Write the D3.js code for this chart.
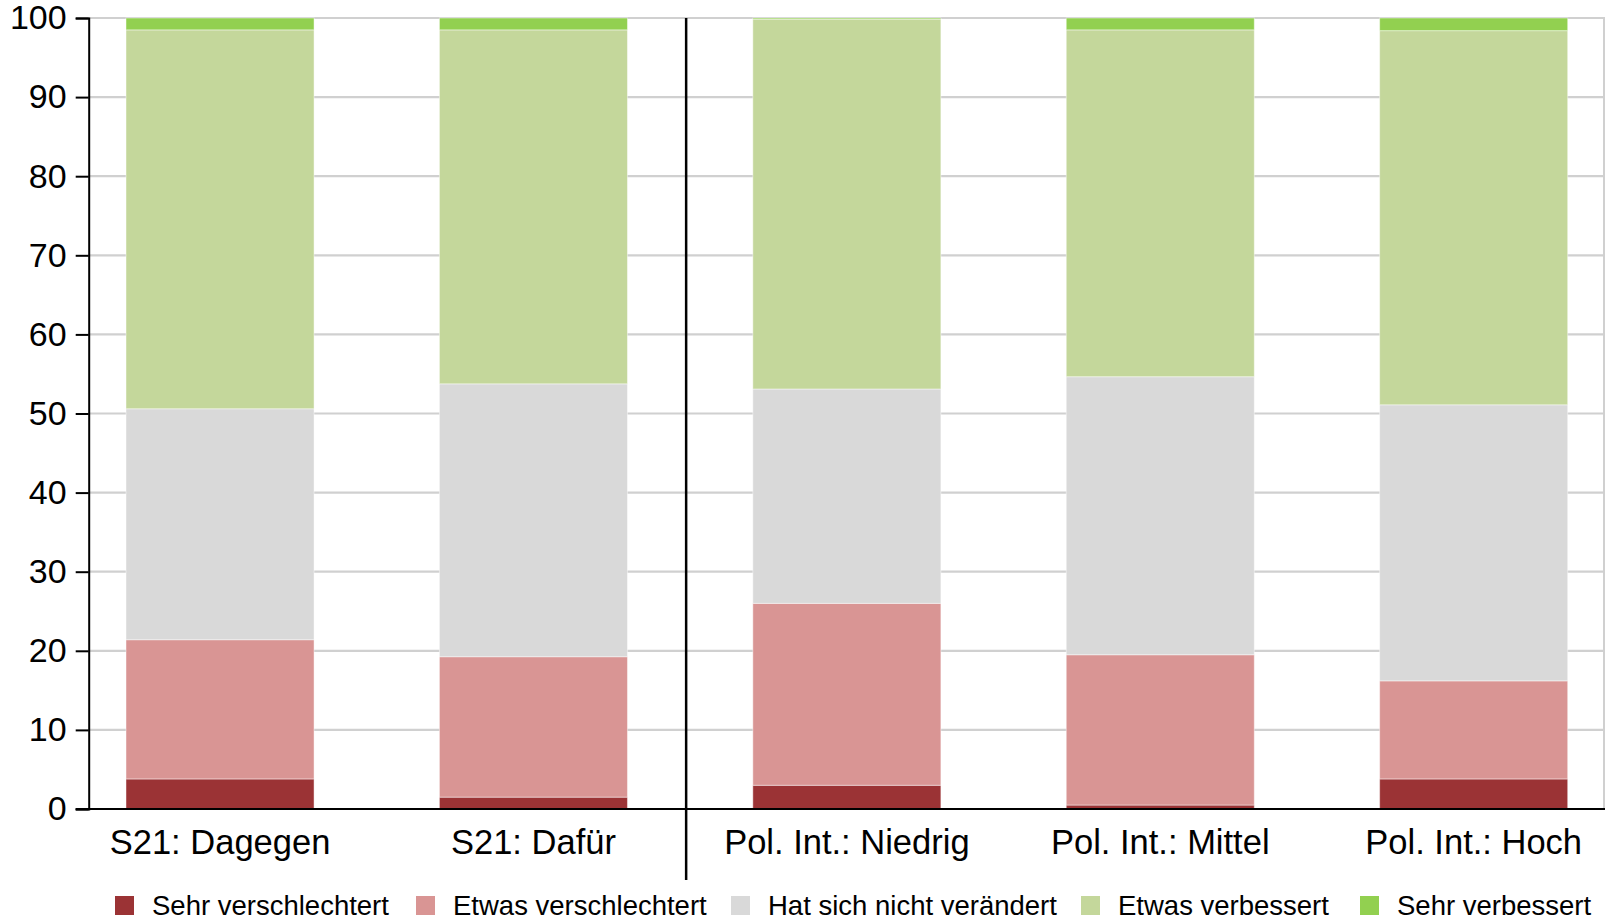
<!DOCTYPE html>
<html>
<head>
<meta charset="utf-8">
<script src="https://cdn.jsdelivr.net/npm/d3@7"></script>
<style>
  html, body { margin: 0; padding: 0; background: #fff; }
  svg { display: block; font-family: "Liberation Sans", Arial, sans-serif; }
</style>
</head>
<body>
<svg id="chart" width="1608" height="922"></svg>
<script>
// ---- data ----
const categories = ["S21: Dagegen", "S21: Dafür", "Pol. Int.: Niedrig", "Pol. Int.: Mittel", "Pol. Int.: Hoch"];
const seriesNames = ["Sehr verschlechtert", "Etwas verschlechtert", "Hat sich nicht verändert", "Etwas verbessert", "Sehr verbessert"];
const sehrVerschlechtert  = [3.8, 1.5, 3.0, 0.5, 3.8];
const etwasVerschlechtert = [17.6, 17.75, 23.0, 19.0, 12.4];
const nichtVeraendert     = [29.2, 34.5, 27.1, 35.15, 34.9];
const etwasVerbessert     = [47.9, 44.75, 46.75, 43.85, 47.3];
const sehrVerbessert      = [1.5, 1.5, 0.15, 1.5, 1.6];
const yTicks = [0, 10, 20, 30, 40, 50, 60, 70, 80, 90, 100];
const colors = ["#9b3335", "#d99594", "#d9d9d9", "#c4d79b", "#92d050"];

const seriesValues = [sehrVerschlechtert, etwasVerschlechtert, nichtVeraendert, etwasVerbessert, sehrVerbessert];
const rows = categories.map((c, i) => {
  const r = { cat: c };
  seriesNames.forEach((s, j) => r[s] = seriesValues[j][i]);
  return r;
});

// ---- layout ----
const svg = d3.select("#chart");
const mLeft = 88.7, mRight = 1605, mTop = 18, mBottom = 809;
const fontFam = "'Liberation Sans', Arial, sans-serif";

const x = d3.scaleBand().domain(categories).range([mLeft, mRight]).paddingInner(0.4).paddingOuter(0.119);
const y = d3.scaleLinear().domain([0, 100]).range([mBottom, mTop]);
const color = d3.scaleOrdinal().domain(seriesNames).range(colors);

// gridlines
svg.append("g").selectAll("line").data(yTicks).join("line")
  .attr("x1", mLeft).attr("x2", mRight)
  .attr("y1", d => y(d)).attr("y2", d => y(d))
  .attr("stroke", "#d0d0d0").attr("stroke-width", 2.2);
// right border
svg.append("line").attr("x1", mRight - 1).attr("x2", mRight - 1).attr("y1", mTop).attr("y2", mBottom)
  .attr("stroke", "#d0d0d0").attr("stroke-width", 2);

// stacked bars
const stacked = d3.stack().keys(seriesNames)(rows);
svg.append("g").selectAll("g").data(stacked).join("g")
  .attr("fill", d => color(d.key))
  .selectAll("rect").data(d => d).join("rect")
  .attr("x", d => x(d.data.cat))
  .attr("width", x.bandwidth())
  .attr("y", d => y(d[1]))
  .attr("height", d => y(d[0]) - y(d[1]))
  .attr("stroke", "rgba(255,255,255,0.45)").attr("stroke-width", 1);

// y axis
const yAxis = svg.append("g").attr("transform", `translate(${mLeft},0)`)
  .call(d3.axisLeft(y).tickValues(yTicks).tickSize(13).tickPadding(9).tickFormat(d3.format("d")));
yAxis.select(".domain").attr("stroke", "#000").attr("stroke-width", 2);
yAxis.selectAll(".tick line").attr("stroke", "#000").attr("stroke-width", 2);
yAxis.selectAll(".tick text").attr("font-size", 34).attr("fill", "#000").attr("font-family", fontFam);

// x axis
const xAxis = svg.append("g").attr("transform", `translate(0,${mBottom})`)
  .call(d3.axisBottom(x).tickSize(0).tickPadding(21));
xAxis.select(".domain").remove();
xAxis.selectAll(".tick text").attr("font-size", 34.5).attr("fill", "#000").attr("font-family", fontFam);
svg.append("line").attr("x1", mLeft - 13).attr("x2", mRight).attr("y1", mBottom).attr("y2", mBottom)
  .attr("stroke", "#000").attr("stroke-width", 2.2);

// group separator
const sepX = (x(categories[1]) + x.bandwidth() + x(categories[2])) / 2 - 4;
svg.append("line").attr("x1", sepX).attr("x2", sepX).attr("y1", mTop).attr("y2", 880)
  .attr("stroke", "#000").attr("stroke-width", 2.5);

// legend
const legendX = [115, 416, 731, 1081, 1360];
const legend = svg.append("g");
seriesNames.forEach((s, i) => {
  const g = legend.append("g").attr("transform", `translate(${legendX[i]},0)`);
  g.append("rect").attr("x", 0).attr("y", 896).attr("width", 19).attr("height", 19).attr("fill", colors[i]);
  g.append("text").attr("x", 37).attr("y", 915).attr("font-size", 27.5).attr("fill", "#000").text(s);
});
</script>
</body>
</html>
